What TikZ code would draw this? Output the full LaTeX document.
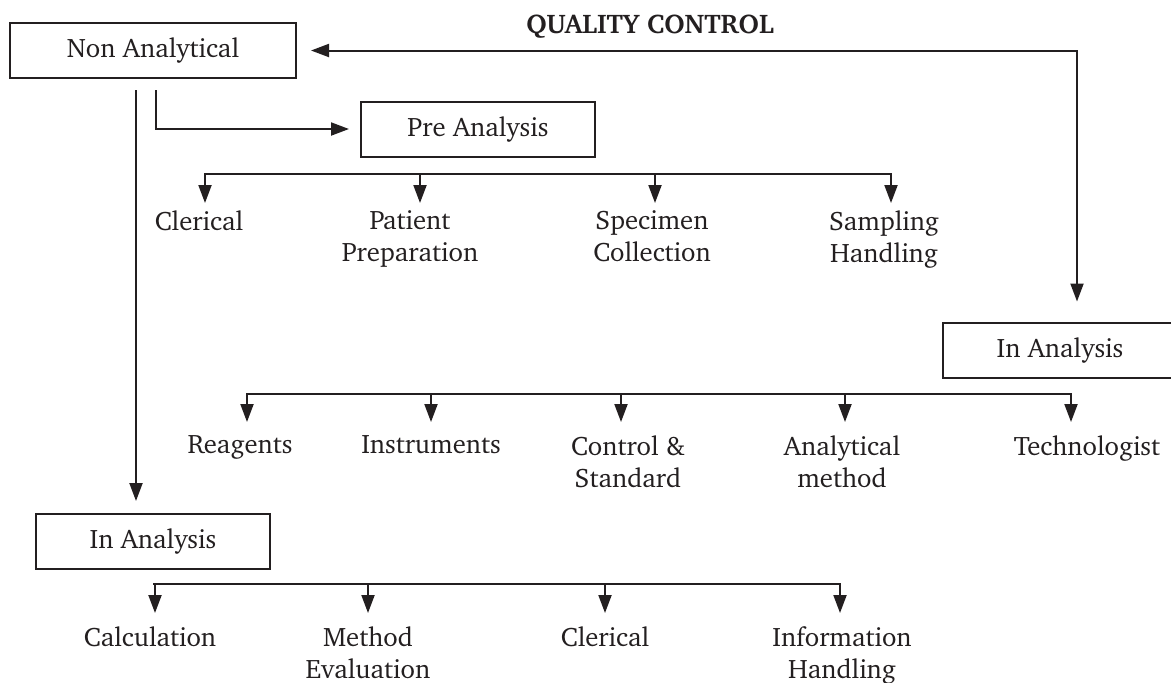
\documentclass[tikz,border=0pt]{standalone}
\usepackage[T1]{fontenc}
\usepackage{charter}
\usepackage{xcolor}
\usetikzlibrary{shapes,arrows,arrows.meta,positioning,calc}
\definecolor{ink}{HTML}{231F20}

\begin{document}
\begin{tikzpicture}[x=0.4pt, y=-0.4pt, font=\fontsize{10.7}{12.8}\selectfont, color=ink]
    \tikzstyle{box} = [rectangle, draw, line width=0.8pt, minimum width=93.6pt, minimum height=22pt, inner sep=0pt]
    \tikzstyle{item} = [align=center, anchor=north, inner xsep=0pt, inner ysep=5.2pt]
    \tikzstyle{arrow} = [line width=0.8pt, ->, >={Triangle[length=7.2pt, width=5.2pt]}]

    \useasboundingbox (0,0) rectangle (1171,682);

    \node [font=\fontsize{10.8}{12.8}\selectfont\bfseries, anchor=base] (title) at (650,33) {QUALITY CONTROL};

    \node [box, minimum width=114.4pt] (nonan) at (153,50.5) {Non Analytical};
    \node [box] (pre) at (478,129) {Pre Analysis};
    \node [box] (inright) at (1060,350) {In Analysis};
    \node [box] (inleft) at (153,541.5) {In Analysis};

    % links out of non analytical
    \coordinate (down) at ($(nonan.south)+(-17,11)$);
    \coordinate (side) at ($(nonan.south)+(3,11)$);
    \coordinate (corner) at ($(inright.north)+(17,0)$);
    \draw [arrow, <->, shorten <=5.6pt, shorten >=8pt] (nonan.east) -| (corner);
    \draw [arrow, shorten >=4.8pt] (down) -- (down |- inleft.north);
    \draw [arrow, shorten >=4.4pt] (side) |- (pre.west);

    % pre analysis
    \coordinate (prebar) at ($(pre.south)+(0,16)$);
    \node [item, inner ysep=2.8pt] (clerical) at (199,203) {Clerical};
    \node [item, inner ysep=2.8pt] (patient) at (410,203) {Patient\\Preparation};
    \node [item, inner ysep=2.8pt] (specimen) at (652,203) {Specimen\\Collection};
    \node [item, inner ysep=2.8pt] (sampling) at (884,203) {Sampling\\Handling};

    \draw [arrow, <->] ([xshift=2.4pt]clerical.north) |- (prebar) -| ([xshift=2.8pt]sampling.north);
    \draw [arrow] (prebar -| patient.north) ++(4pt,0) -- ([xshift=4pt]patient.north);
    \draw [arrow] (prebar -| specimen.north) ++(1.2pt,0) -- ([xshift=1.2pt]specimen.north);

    % in analysis
    \coordinate (midbar) at ($(inright.south)+(0,15)$);
    \node [item] (reagents) at (240,422) {Reagents};
    \node [item] (instruments) at (431,422) {Instruments};
    \node [item] (control) at (628,422) {Control \&\\Standard};
    \node [item] (analytical) at (842,422) {Analytical\\method};
    \node [item] (technologist) at (1087,422) {Technologist};

    \draw [arrow, <->] ([xshift=2.8pt]reagents.north) |- (midbar) -| ([xshift=-6.4pt]technologist.north);
    \draw [arrow] (midbar -| instruments.north) -- (instruments.north);
    \draw [arrow] (midbar -| control.north) ++(-2.8pt,0) -- ([xshift=-2.8pt]control.north);
    \draw [arrow] (midbar -| analytical.north) ++(1.2pt,0) -- ([xshift=1.2pt]analytical.north);

    % post side
    \coordinate (lowbar) at ($(inleft.south)+(0,14)$);
    \node [item] (calculation) at (150,613) {Calculation};
    \node [item] (method) at (368,613) {Method\\Evaluation};
    \node [item] (clericalb) at (605,613) {Clerical};
    \node [item] (information) at (842,613) {Information\\Handling};

    \draw [arrow, <->] ([xshift=2pt]calculation.north) |- (lowbar) -| ([xshift=-0.8pt]information.north);
    \draw [arrow] (lowbar -| method.north) -- (method.north);
    \draw [arrow] (lowbar -| clericalb.north) -- (clericalb.north);
\end{tikzpicture}
\end{document}
